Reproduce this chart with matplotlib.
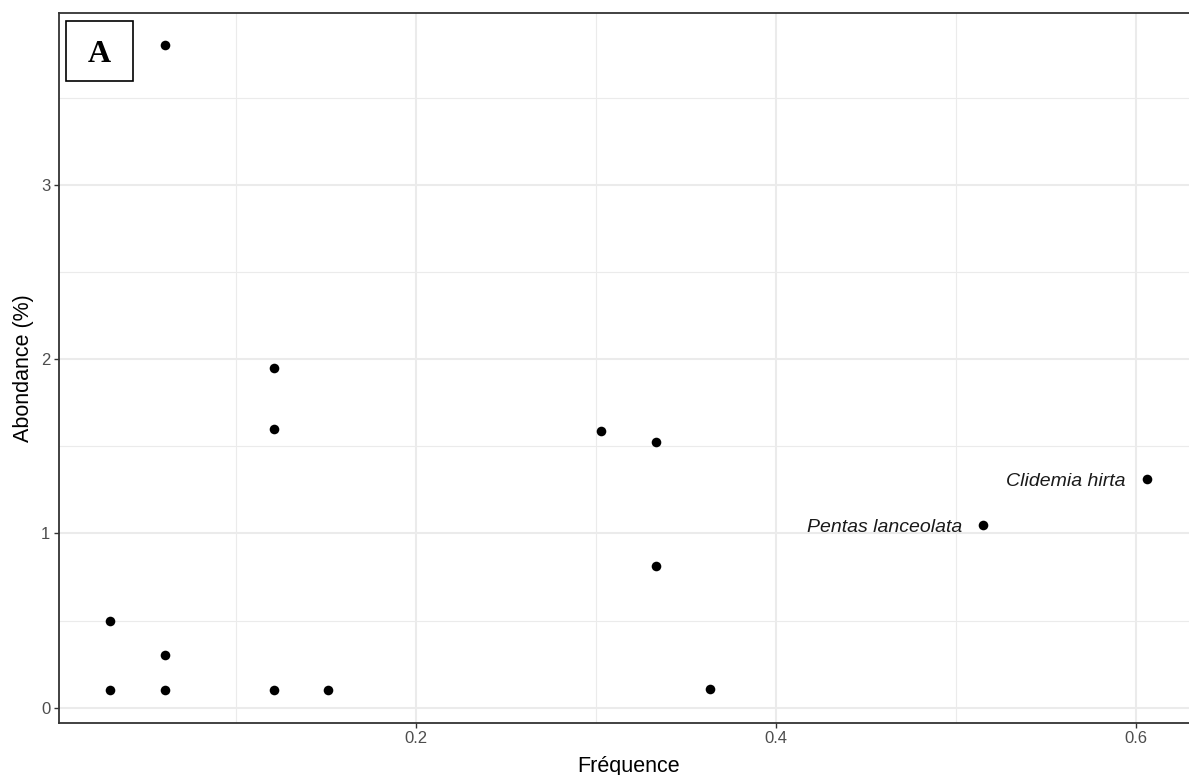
import matplotlib
matplotlib.use("Agg")
import matplotlib.pyplot as plt
from matplotlib.patches import Rectangle

# frequence / abondance
frequence = [0.0303, 0.0303, 0.0606, 0.0606, 0.0606, 0.1212, 0.1212, 0.1212,
             0.1515, 0.3030, 0.3333, 0.3333, 0.3636, 0.5152, 0.6061]
abondance = [0.10, 0.50, 0.10, 0.30, 3.80, 0.10, 1.60, 1.95,
             0.10, 1.585, 1.525, 0.815, 0.105, 1.048, 1.31]
labelled = {13: "Pentas lanceolata", 14: "Clidemia hirta"}

xticks = [0.2, 0.4, 0.6]
xminor = [0.1, 0.3, 0.5]
yticks = [0, 1, 2, 3]
yminor = [0.5, 1.5, 2.5, 3.5]

W, H = 1189, 775
fig = plt.figure(figsize=(W / 100, H / 100), dpi=100)
plt.rcParams['font.family'] = ['Liberation Sans', 'DejaVu Sans']

# panel in pixels (right edge runs past the image, like the reference)
left, right, bottom, top = 58.5, 1198.5, 722.5, 13.0
ax = fig.add_axes([left / W, (H - bottom) / H, (right - left) / W, (bottom - top) / H])

# ggplot-like 5% expansion
xr = max(frequence) - min(frequence)
yr = max(abondance) - min(abondance)
ax.set_xlim(min(frequence) - 0.05 * xr, max(frequence) + 0.05 * xr)
ax.set_ylim(min(abondance) - 0.05 * yr, max(abondance) + 0.05 * yr)

grid_col = "#EBEBEB"
for v in xminor:
    ax.axvline(v, color=grid_col, lw=0.8, zorder=0)
for v in xticks:
    ax.axvline(v, color=grid_col, lw=1.5, zorder=0)
for v in yminor:
    ax.axhline(v, color=grid_col, lw=0.8, zorder=0)
for v in yticks:
    ax.axhline(v, color=grid_col, lw=1.5, zorder=0)

ax.scatter(frequence, abondance, s=48, color="black", zorder=3, linewidths=0)

for i, name in labelled.items():
    ax.annotate(name, (frequence[i], abondance[i]), xytext=(-15, -1.5),
                textcoords="offset points", ha="right", va="center",
                fontsize=14, style="italic", color="#1a1a1a")

ax.set_xticks(xticks)
ax.set_xticklabels(["0.2", "0.4", "0.6"])
ax.set_yticks(yticks)
ax.set_yticklabels(["0", "1", "2", "3"])
ax.tick_params(axis="both", length=3.5, width=1.0, color="#333333",
               labelcolor="#4D4D4D", labelsize=12, pad=2.5)

for s in ax.spines.values():
    s.set_color("#333333")
    s.set_linewidth(1.3)

ax.set_xlabel("Fréquence", fontsize=15.5, color="black", labelpad=7)
ax.set_ylabel("Abondance (%)", fontsize=15.5, color="black", labelpad=5)

# panel tag "A"
bx0, bx1, by0, by1 = 66, 133, 20.7, 80.7
fig.patches.append(Rectangle((bx0 / W, (H - by1) / H), (bx1 - bx0) / W, (by1 - by0) / H,
                             transform=fig.transFigure, facecolor="white",
                             edgecolor="black", lw=1.2, zorder=5))
fig.text((bx0 + bx1) / 2 / W, (H - 62) / H, "A", ha="center", va="baseline",
         fontsize=23, fontweight="bold", family=["Liberation Serif", "DejaVu Serif"],
         zorder=6)

fig.savefig("out.png", dpi=100)
